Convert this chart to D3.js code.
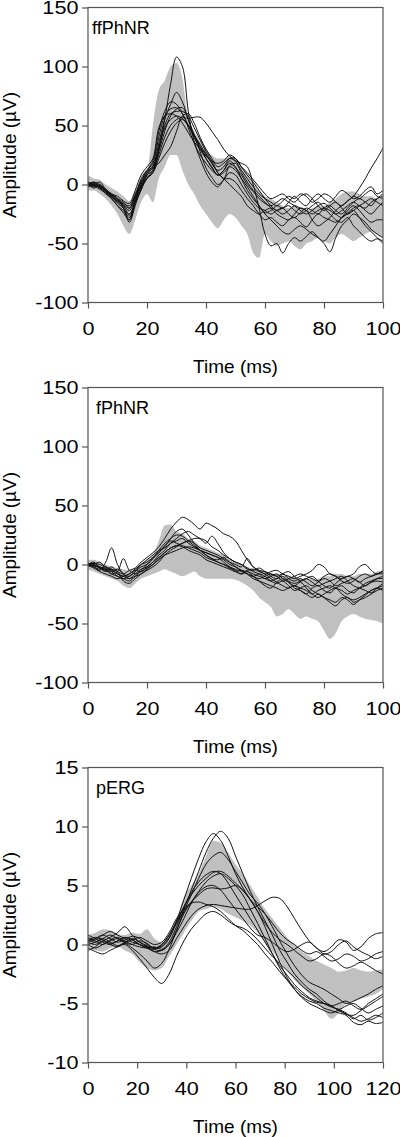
<!DOCTYPE html>
<html><head><meta charset="utf-8">
<script src="https://cdn.jsdelivr.net/npm/d3@7"></script>
<style>
body{margin:0;background:#fff}
svg{display:block}
text{font-family:"Liberation Sans",Arial,sans-serif;fill:#000}
</style>
</head><body>
<svg id="c" width="400" height="1137"></svg>
<script>
// ---------- data ----------
const time100 = [0,2,4,6,8,10,12,14,16,18,20,22,24,26,28,30,32,34,36,38,40,42,44,46,48,50,52,54,56,58,60,62,64,66,68,70,72,74,76,78,80,82,84,86,88,90,92,94,96,98,100];
const time120 = [0,3,6,9,12,15,18,21,24,27,30,33,36,39,42,45,48,51,54,57,60,63,66,69,72,75,78,81,84,87,90,93,96,99,102,105,108,111,114,117,120];

const ffTraces = [
 [0,2,-2,-5,-10,-15,-20,-28,-15,-2,5,10,30,55,85,108,100,62,36,22,10,2,-2,4,10,8,0,-8,-15,-20,-22,-25,-22,-20,-25,-28,-24,-20,-22,-25,-20,-18,-22,-25,-20,-15,-12,-15,-18,-12,-8],
 [2,0,-3,-8,-12,-18,-22,-30,-12,5,12,15,35,55,68,78,70,55,40,30,22,15,8,12,20,15,5,-5,-12,-18,-24,-22,-18,-20,-15,-10,-15,-18,-12,-8,-12,-15,-10,-5,-8,-12,-10,-5,-2,-8,-5],
 [0,-2,0,-6,-10,-14,-18,-22,-12,0,8,12,25,40,50,55,57,56,57,57,52,45,38,30,24,20,12,5,-2,-8,-12,-15,-18,-14,-10,-12,-8,-10,-15,-12,-8,-10,-15,-18,-14,-10,-12,-8,-5,-10,-12],
 [-2,0,2,-4,-8,-12,-18,-25,-15,-5,8,14,18,25,32,45,58,60,52,40,30,22,15,18,22,20,18,15,0,-20,-42,-52,-50,-58,-50,-45,-48,-44,-40,-45,-50,-57,-45,-35,-30,-25,-28,-32,-38,-42,-45],
 [0,-3,-1,-6,-9,-13,-17,-20,-10,2,12,18,40,58,64,65,60,48,35,25,18,12,8,10,16,18,10,2,-5,-10,-15,-20,-25,-28,-30,-25,-20,-22,-30,-35,-32,-28,-22,-18,-14,-10,-3,5,14,22,31],
 [0,1,-2,-5,-10,-16,-20,-32,-18,-3,10,16,32,50,60,62,62,58,48,38,28,20,10,5,5,2,-5,-12,-18,-25,-30,-28,-32,-35,-30,-28,-32,-36,-30,-25,-28,-30,-32,-28,-22,-18,-22,-28,-32,-30,-30],
 [1,-1,-4,-7,-11,-14,-16,-18,-8,3,12,20,45,62,70,68,60,50,40,32,25,18,12,15,22,22,15,8,2,-5,-12,-18,-22,-20,-18,-22,-25,-22,-18,-15,-20,-25,-30,-32,-28,-35,-40,-45,-48,-46,-48],
 [-1,0,-3,-6,-8,-12,-15,-20,-10,-2,6,10,22,35,45,52,55,50,42,34,26,18,10,5,0,-5,-10,-18,-22,-25,-22,-20,-22,-25,-22,-18,-20,-22,-25,-22,-20,-22,-25,-22,-18,-15,-18,-20,-15,-12,-10],
 [0,2,0,-4,-8,-10,-14,-16,-5,8,15,22,48,58,60,58,52,44,36,30,24,20,18,20,25,22,15,10,4,-2,-8,-12,-10,-8,-12,-15,-10,-8,-12,-18,-22,-18,-15,-20,-25,-22,-18,-15,-12,-15,-18],
 [0,-1,-2,-6,-12,-18,-24,-30,-16,-4,5,12,28,45,58,64,65,55,42,28,14,6,0,4,15,12,5,-2,-10,-18,-25,-30,-35,-40,-42,-38,-35,-38,-42,-45,-48,-42,-35,-28,-25,-22,-28,-35,-40,-45,-50],
 [2,0,-1,-5,-9,-12,-20,-26,-14,0,10,14,30,48,55,58,56,50,42,32,22,14,8,12,18,14,8,0,-6,-12,-16,-18,-15,-12,-15,-18,-22,-25,-22,-18,-16,-20,-25,-28,-24,-20,-18,-22,-25,-20,-15]
];
const ffUpper = [8,5,4,0,-3,-6,-10,-14,-5,3,10,50,80,88,100,103,90,55,45,38,30,25,22,22,24,22,15,8,2,-5,-10,-12,-15,-18,-20,-18,-20,-22,-20,-18,-18,-15,-12,-8,-6,-6,-8,-10,-10,-12,-12];
const ffLower = [-5,-5,-8,-12,-18,-25,-35,-42,-30,-15,-8,-15,5,15,25,25,12,0,-8,-18,-25,-32,-37,-30,-25,-28,-35,-42,-58,-62,-42,-48,-52,-50,-48,-52,-55,-50,-48,-45,-48,-50,-45,-42,-45,-48,-45,-42,-40,-42,-45];

const fTraces = [
 [0,2,-3,-5,-2,-6,-8,-5,-3,2,6,10,15,22,30,36,40,38,34,30,35,33,30,26,24,20,12,4,-2,-5,-6,-8,-10,-8,-12,-14,-12,-15,-18,-15,-12,-14,-18,-16,-14,-12,-15,-18,-15,-12,-10],
 [0,-2,-5,2,14,0,-8,-10,-6,-2,0,5,10,15,22,28,30,25,18,12,8,5,2,0,-3,-5,-8,-6,-10,-14,-18,-20,-15,-12,-15,-20,-22,-25,-28,-25,-28,-30,-32,-28,-30,-34,-30,-26,-22,-20,-18],
 [-1,-3,-6,-8,-10,-12,-10,-8,-5,-6,-2,2,8,12,18,22,26,28,25,22,18,24,18,10,5,2,0,-3,-6,-8,-12,-10,-8,-12,-15,-18,-15,-20,-25,-28,-25,-22,-20,-25,-28,-30,-28,-25,-22,-20,-22],
 [0,-1,-2,-4,-8,-10,-12,-14,-10,-5,0,5,12,18,22,25,24,20,16,12,10,8,6,4,0,-2,-5,-8,-10,-8,-10,-14,-16,-14,-18,-22,-20,-18,-22,-25,-28,-32,-35,-30,-28,-32,-30,-28,-25,-22,-20],
 [0,1,-2,-4,-6,-4,-8,-12,-8,-4,-2,2,6,10,14,16,18,20,18,14,12,10,8,5,2,0,-2,5,-2,-5,-8,-6,-5,-8,-10,-12,-10,-8,-5,0,-2,-8,-10,-12,-10,-8,-2,0,-5,-8,-5],
 [1,0,-3,-6,-4,-8,-10,-8,-4,0,4,8,12,14,18,20,22,18,15,12,10,8,6,2,-2,-4,-6,-8,-10,-12,-10,-8,-10,-14,-12,-10,-8,-10,-12,-14,-10,-8,-10,-14,-16,-14,-10,-8,-10,-8,-6],
 [0,-2,-4,-2,-6,-10,-12,-10,-6,0,2,6,10,16,20,18,16,14,12,10,6,4,2,0,-2,-6,-8,-5,-4,-6,-8,-12,-15,-18,-20,-18,-22,-25,-20,-18,-22,-24,-20,-18,-22,-24,-20,-16,-14,-12,-12],
 [0,-1,-3,-5,-8,-6,5,-5,-8,-6,-3,0,5,10,14,16,15,12,10,8,4,2,0,-2,-4,-6,-5,-8,-12,-14,-16,-18,-20,-22,-20,-18,-20,-22,-25,-22,-20,-18,-20,-22,-25,-22,-20,-18,-15,-14,-15],
 [-1,0,2,-3,-5,-8,-10,-12,-10,-8,-5,-2,2,8,12,15,18,20,22,22,20,15,12,8,5,2,0,-4,-5,-3,-6,-10,-12,-8,-6,-10,-14,-12,-10,-14,-18,-20,-16,-12,-10,-12,-15,-12,-10,-8,-8],
 [0,1,0,-2,-4,-6,-14,-16,-12,-8,-4,0,4,8,10,12,14,15,14,12,8,5,4,6,2,-2,-5,-6,-8,-10,-12,-14,-12,-10,-14,-16,-14,-12,-15,-18,-16,-14,-12,-10,-14,-18,-20,-22,-24,-20,-16]
];
const fUpper = [4,4,2,0,-2,-3,-4,-5,-3,0,4,8,20,33,34,28,26,22,20,16,14,12,10,8,5,2,0,-2,-4,-5,-6,-8,-8,-10,-10,-10,-12,-12,-12,-12,-10,-10,-8,-8,-10,-10,-8,-8,-8,-6,-5];
const fLower = [-4,-6,-8,-10,-12,-14,-18,-20,-16,-12,-10,-8,-6,-4,-6,-8,-10,-8,-6,-10,-12,-12,-12,-12,-12,-13,-15,-18,-22,-28,-32,-36,-44,-42,-38,-42,-46,-44,-46,-48,-56,-63,-58,-48,-44,-42,-44,-46,-47,-48,-50];

const pTraces = [
 [0.5,0.3,0.0,0.4,0.6,0.3,0.0,-0.2,-0.3,-0.2,-0.4,0.2,1.5,3.0,4.6,6.2,7.8,9.0,9.6,9.0,7.5,6.0,4.5,3.2,2.0,0.8,-0.5,-1.5,-2.5,-3.2,-3.8,-4.2,-4.8,-5.2,-5.5,-5.2,-5.0,-5.4,-5.8,-5.5,-5.2],
 [0.2,0.5,0.8,0.5,0.2,0.4,0.7,0.5,0.0,-0.3,-0.2,0.5,2.0,3.8,5.6,7.3,8.7,9.4,8.8,7.5,6.0,4.8,3.8,2.8,1.5,0.0,-1.5,-2.8,-3.8,-4.5,-5.0,-5.3,-5.6,-5.8,-5.6,-5.9,-6.2,-6.5,-6.3,-6.0,-6.2],
 [0.0,-0.3,0.0,0.3,0.5,0.2,0.0,0.3,0.1,-0.4,-0.5,0.0,1.2,2.8,4.2,5.6,6.8,7.5,7.8,7.2,6.2,5.2,4.2,3.5,2.6,1.5,0.3,-0.8,-1.8,-2.6,-3.2,-3.5,-3.8,-4.2,-4.6,-5.0,-4.8,-4.5,-4.2,-3.8,-3.5],
 [0.3,0.6,0.4,0.1,0.3,0.6,0.4,0.0,-0.2,-0.3,0.0,0.8,2.0,3.2,4.2,5.0,5.6,6.1,6.2,5.8,5.2,4.6,3.8,3.2,2.6,1.8,1.0,0.4,0.0,-0.5,-0.8,-0.6,-1.0,-1.4,-1.2,-0.8,-1.0,-1.4,-1.2,-0.8,-0.6],
 [0.6,0.4,0.8,1.1,0.8,0.5,0.2,0.0,-0.3,-0.6,-0.5,0.0,1.0,2.2,3.5,4.5,5.3,5.8,6.0,5.6,5.0,4.2,3.0,1.8,0.5,-0.8,-2.0,-3.0,-3.8,-4.4,-4.8,-5.0,-5.4,-5.6,-5.8,-6.0,-6.6,-6.8,-6.5,-6.7,-6.6],
 [-0.5,-0.2,0.3,0.6,1.0,1.5,0.8,0.2,-0.2,-0.6,-0.8,-0.5,0.5,1.5,2.4,3.0,3.3,3.4,3.3,3.2,3.1,3.0,3.0,3.3,3.7,4.0,3.9,3.2,2.2,1.2,0.3,-0.3,-0.6,-0.2,0.4,0.2,-0.5,-0.2,0.5,0.9,1.0],
 [0.8,0.5,0.2,0.0,0.3,0.6,0.4,0.0,-0.3,-0.4,0.0,0.8,1.8,2.8,3.6,4.2,4.7,4.8,4.7,4.8,5.0,4.6,3.8,2.8,1.8,1.0,0.4,0.0,-0.5,-1.0,-1.4,-1.2,-0.8,-1.0,-1.6,-2.0,-1.8,-1.5,-1.8,-2.2,-2.5],
 [0.4,0.2,0.5,0.8,0.5,0.2,0.4,0.6,0.3,0.0,0.2,1.0,2.2,3.0,3.5,3.6,3.4,3.2,2.8,2.2,1.6,1.2,0.6,0.0,-0.8,-1.5,-2.3,-3.0,-3.6,-4.2,-4.6,-4.9,-5.0,-5.2,-5.0,-4.8,-5.2,-5.5,-5.0,-4.6,-4.2],
 [-0.3,-0.6,-0.8,-0.5,-0.2,0.0,-0.5,-1.2,-2.0,-2.8,-3.3,-2.5,-1.0,0.3,1.3,2.0,2.6,2.8,2.5,2.0,1.6,1.4,1.0,0.4,-0.3,-1.0,-1.6,-2.2,-2.8,-3.5,-4.0,-4.5,-5.0,-5.3,-5.5,-5.8,-6.3,-6.0,-6.4,-6.2,-5.8],
 [0.2,0.0,0.3,0.0,-0.2,0.1,-0.3,-0.8,-1.4,-2.0,-1.6,-0.4,1.2,2.6,3.6,4.4,4.9,5.0,4.6,3.8,3.0,2.2,1.4,0.8,0.6,0.2,-0.3,-0.6,-0.4,0.0,0.2,-0.3,-0.8,-0.6,0.0,0.3,-0.2,-0.6,-0.9,-1.2,-1.0],
 [0.0,0.2,0.5,0.2,-0.1,0.2,0.5,0.2,-0.1,-0.3,-0.1,0.6,1.8,3.2,4.4,5.3,5.9,6.2,6.0,5.2,4.2,3.2,2.2,1.2,0.2,-0.8,-1.8,-2.6,-3.4,-4.0,-4.5,-4.8,-5.0,-5.2,-5.6,-5.9,-6.0,-5.6,-5.2,-4.8,-4.4]
];
const pUpper = [0.8,1.0,1.3,1.2,0.9,0.8,1.0,0.9,1.3,0.5,0.2,0.8,2.0,4.0,5.0,6.0,7.5,8.8,8.6,7.8,6.8,6.0,5.0,4.0,3.0,2.2,1.4,0.6,0.0,-0.6,-1.0,-1.4,-1.7,-2.0,-2.3,-2.2,-2.0,-2.2,-2.3,-2.2,-2.1];
const pLower = [-0.3,-0.5,-0.6,-0.3,-0.2,-0.5,-0.8,-1.5,-2.0,-2.2,-2.0,-1.0,0.0,1.0,2.0,2.8,3.0,3.2,3.0,2.6,2.3,2.0,1.6,1.0,0.2,-0.6,-1.4,-2.2,-3.0,-3.6,-4.2,-4.8,-5.6,-6.3,-5.8,-5.0,-4.8,-4.6,-4.4,-4.2,-3.8];

const xTicks100 = [0,20,40,60,80,100];
const xTicks120 = [0,20,40,60,80,100,120];
const yTicksPhNR = [-100,-50,0,50,100,150];
const yTicksPERG = [-10,-5,0,5,10,15];
const panelLabels = ["ffPhNR","fPhNR","pERG"];

// ---------- layout ----------
const L = 88, R = 383;
const panels = [
  {label:panelLabels[0], lx:92, top:7.5, bottom:302.5, xMax:100, xTicks:xTicks100, yDom:[-100,150], yTicks:yTicksPhNR, time:time100, traces:ffTraces, up:ffUpper, lo:ffLower},
  {label:panelLabels[1], lx:96, top:387.5, bottom:682.5, xMax:100, xTicks:xTicks100, yDom:[-100,150], yTicks:yTicksPhNR, time:time100, traces:fTraces, up:fUpper, lo:fLower},
  {label:panelLabels[2], lx:96, top:767.5, bottom:1062.5, xMax:120, xTicks:xTicks120, yDom:[-10,15], yTicks:yTicksPERG, time:time120, traces:pTraces, up:pUpper, lo:pLower}
];

const svg = d3.select("#c");
const axisCol = "#555";

panels.forEach((p, k) => {
  const x = d3.scaleLinear().domain([0, p.xMax]).range([L, R]);
  const y = d3.scaleLinear().domain(p.yDom).range([p.bottom, p.top]);
  const g = svg.append("g");

  const cid = "clip" + k;
  svg.append("clipPath").attr("id", cid).append("rect")
    .attr("x", L).attr("y", p.top).attr("width", R - L).attr("height", p.bottom - p.top);

  const plot = g.append("g").attr("clip-path", `url(#${cid})`);

  const area = d3.area()
    .x((d, i) => x(p.time[i]))
    .y0((d, i) => y(p.lo[i]))
    .y1((d, i) => y(p.up[i]))
    .curve(d3.curveMonotoneX);
  plot.append("path").datum(p.up).attr("d", area).attr("fill", "#c0c0c0");

  const line = d3.line()
    .x((d, i) => x(p.time[i]))
    .y(d => y(d))
    .curve(d3.curveCatmullRom.alpha(0.5));
  plot.selectAll("path.tr").data(p.traces).join("path")
    .attr("class", "tr").attr("d", line)
    .attr("fill", "none").attr("stroke", "#111").attr("stroke-width", 1);

  // frame
  g.append("rect").attr("x", L).attr("y", p.top).attr("width", R - L).attr("height", p.bottom - p.top)
    .attr("fill", "none").attr("stroke", axisCol).attr("stroke-width", 1.2);

  // y axis
  const ya = g.append("g").attr("transform", `translate(${L},0)`)
    .call(d3.axisLeft(y).tickValues(p.yTicks).tickSize(6).tickSizeOuter(0).tickFormat(d => String(d)));
  ya.select(".domain").remove();
  ya.selectAll(".tick line").attr("stroke", axisCol).attr("stroke-width", 1.2);
  ya.selectAll(".tick text").attr("x", -8).attr("dy", "0.36em")
    .attr("transform", "scale(1.2,1)")
    .style("font-size", "18px").style("font-family", "Liberation Sans, Arial, sans-serif").attr("fill", "#000");

  // x axis
  const xa = g.append("g").attr("transform", `translate(0,${p.bottom})`)
    .call(d3.axisBottom(x).tickValues(p.xTicks).tickSize(6).tickSizeOuter(0).tickFormat(d => String(d)));
  xa.select(".domain").remove();
  xa.selectAll(".tick line").attr("stroke", axisCol).attr("stroke-width", 1.2);
  xa.selectAll(".tick text").attr("y", 32.5).attr("dy", 0)
    .attr("transform", "scale(1.2,1)")
    .style("font-size", "18px").style("font-family", "Liberation Sans, Arial, sans-serif").attr("fill", "#000");

  // x title
  g.append("text").attr("x", (L + R) / 2).attr("y", p.bottom + 70)
    .attr("text-anchor", "middle").style("font-size", "19px").text("Time (ms)");
  // y title
  g.append("text").attr("transform", `translate(16,${(p.top + p.bottom) / 2}) rotate(-90)`)
    .attr("text-anchor", "middle").style("font-size", "19px").text("Amplitude (µV)");
  // panel label
  g.append("text").attr("x", p.lx).attr("y", p.top + 26.5)
    .style("font-size", "18px").text(p.label);
});
</script>
</body></html>
